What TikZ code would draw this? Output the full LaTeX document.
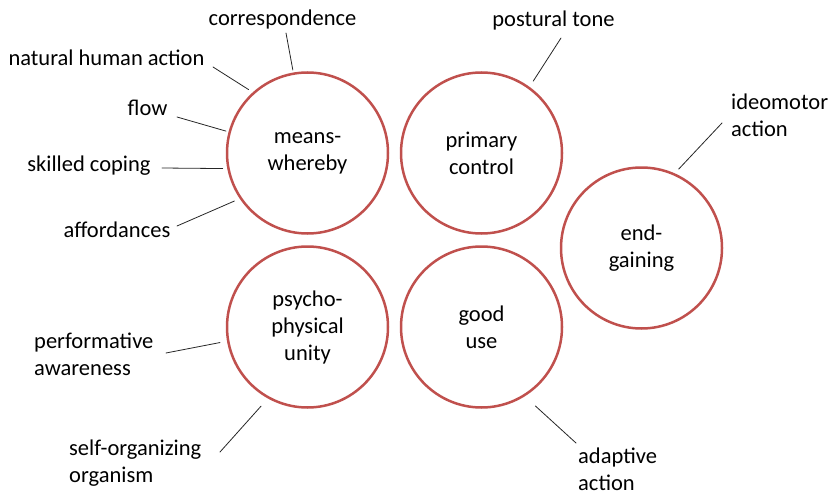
\documentclass[tikz,border=0pt]{standalone}
\usepackage{fontspec}
\setmainfont{Carlito}
\definecolor{ring}{RGB}{192,80,77}
\begin{document}
\begin{tikzpicture}[font=\fontsize{22.5}{27}\selectfont,line join=round, line cap=round,x=1pt,y=-1pt,
	idea/.style={circle,draw=ring,line width=2.5pt,minimum size=161pt,inner sep=0pt,align=center},
	term/.style={inner sep=0pt,align=center},
	lead/.style={draw=black!85,line width=0.8pt}]
			\useasboundingbox (0,0) rectangle (830,492);
			% the five circles
			\node[idea] (mw) at (307.5,153) {means-\\whereby};
			\node[idea] (pc) at (481.5,153) {primary\\control};
			\node[idea] (eg) at (641.5,248) {end-\\gaining};
			\node[idea] (ppu) at (307.5,327) {psycho-\\physical\\unity};
			\node[idea] (gu) at (481.5,327) {good\\use};
			% labels
			\node[term] (corr) at (282.5,20) {correspondence};
			\node[term] (nat) at (106.5,58) {natural human action};
			\node[term] (flow) at (147.5,108) {flow};
			\node[term] (skill) at (89,166) {skilled coping};
			\node[term] (aff) at (117,230) {affordances};
			\node[term] (post) at (553.5,21) {postural tone};
			\node[term,align=left,anchor=west] (ideo) at (731,115) {ideomotor\\action};
			\node[term,align=left,anchor=west] (perf) at (34,354) {performative\\awareness};
			\node[term,align=left,anchor=west] (self) at (69,463.5) {self-organizing\\organism};
			\node[term,align=left,anchor=west] (adapt) at (578,469.5) {adaptive\\action};
			% free ends of the leader lines
			\coordinate (cCorr) at (286,33);
			\coordinate (cNat) at (213,67);
			\coordinate (cFlow) at (177,117);
			\coordinate (cSkill) at (162,168);
			\coordinate (cAff) at (177,226);
			\coordinate (cPost) at (561,38);
			\coordinate (cIdeo) at (722,123);
			\coordinate (cPerf) at (166,353);
			\coordinate (cSelf) at (220,452);
			\coordinate (cAdapt) at (576,443);
			\draw[lead,shorten >=2.5pt] (cCorr)--(mw.100);
			\draw[lead,shorten >=5pt] (cNat)--(mw.132);
			\draw[lead,shorten >=2.7pt] (cFlow)--(mw.165);
			\draw[lead,shorten >=4.5pt] (cSkill)--(mw.191);
			\draw[lead,shorten >=5.8pt] (cAff)--(mw.214);
			\draw[lead,shorten >=6.8pt] (cPost)--(pc.54);
			\draw[lead,shorten >=5.8pt] (cIdeo)--(eg.66);
			\draw[lead,shorten >=7.1pt] (cPerf)--(ppu.190);
			\draw[lead,shorten >=10.3pt] (cSelf)--(ppu.241);
			\draw[lead,shorten >=14.3pt] (cAdapt)--(gu.302);
		\end{tikzpicture}
\end{document}
